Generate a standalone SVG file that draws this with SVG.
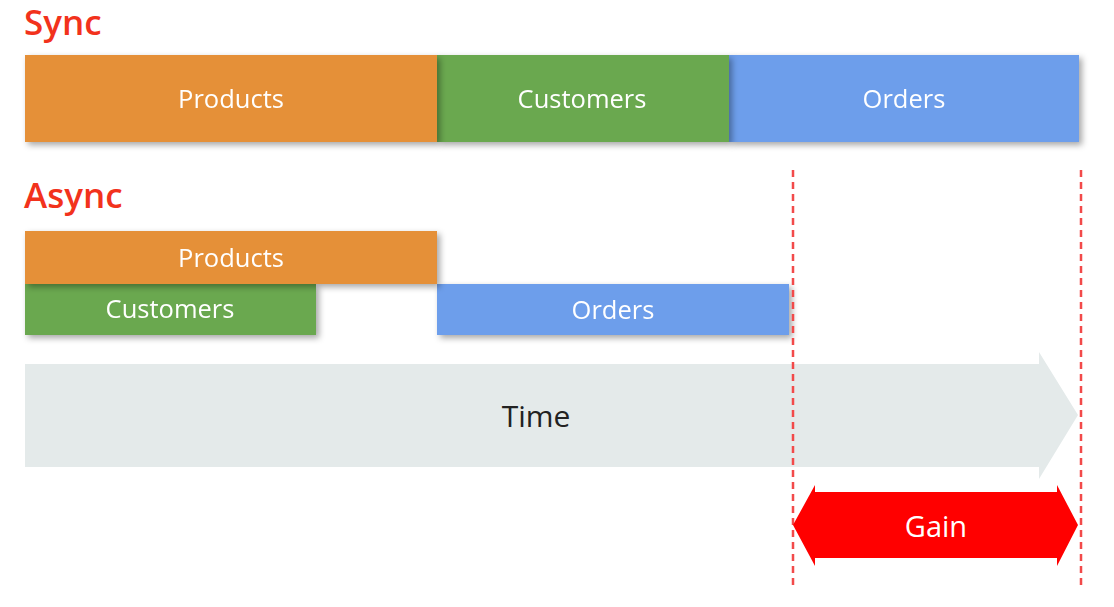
<svg xmlns="http://www.w3.org/2000/svg" width="1114" height="607" viewBox="0 0 1114 607">
<defs>
<filter id="sh" x="-5%" y="-20%" width="115%" height="150%">
<feDropShadow dx="3" dy="3" stdDeviation="3" flood-color="#000" flood-opacity="0.35"/>
</filter>
<style>
.title{font-family:"Open Sans","Noto Sans",sans-serif;font-size:35px;font-weight:600;fill:#F2321C}
.lbl{font-family:"Open Sans","Noto Sans",sans-serif;font-size:25.5px;fill:#FFFFFF;text-anchor:middle;dominant-baseline:central}
.or{fill:#E59038}
.gr{fill:#6AA84F}
.bl{fill:#6D9EEB}
.dash{stroke:#F24A4A;stroke-width:2.5;stroke-dasharray:7,5;fill:none}
</style>
</defs>
<rect width="1114" height="607" fill="#FFFFFF"/>
<text class="title" x="24" y="35">Sync</text>
<text class="title" x="24" y="208">Async</text>

<g id="time">
<path d="M25,364 H1039 V352 L1078,415 L1039,479 V467 H25 Z" fill="#E4EAEA"/>
<text x="536" y="415" font-family="'Open Sans','Noto Sans',sans-serif" font-size="30" fill="#222222" text-anchor="middle" dominant-baseline="central">Time</text>
</g>

<g id="sync-orders" filter="url(#sh)"><rect class="bl" x="729" y="55" width="350" height="87"/><text class="lbl" x="904" y="98">Orders</text></g>
<g id="sync-customers" filter="url(#sh)"><rect class="gr" x="437" y="55" width="292" height="87"/><text class="lbl" x="582" y="98">Customers</text></g>
<g id="sync-products" filter="url(#sh)"><rect class="or" x="25" y="55" width="412" height="87"/><text class="lbl" x="231" y="98">Products</text></g>

<g id="async-orders" filter="url(#sh)"><rect class="bl" x="437" y="284" width="352" height="51"/><text class="lbl" x="613" y="309">Orders</text></g>
<g id="async-customers" filter="url(#sh)"><rect class="gr" x="25" y="284" width="291" height="51"/><text class="lbl" x="170" y="308">Customers</text></g>
<g id="async-products" filter="url(#sh)"><rect class="or" x="25" y="231" width="412" height="53"/><text class="lbl" x="231" y="257">Products</text></g>

<g id="connectors">
<line class="dash" x1="793" y1="170" x2="793" y2="587"/>
<line class="dash" x1="1081" y1="170" x2="1081" y2="587"/>
</g>

<g id="gain">
<path d="M793,525 L815,485 V492 H1057 V485 L1078,525 L1057,566 V558 H815 V566 Z" fill="#FF0000"/>
<text class="lbl" x="936" y="525" style="font-size:29px">Gain</text>
</g>
</svg>
